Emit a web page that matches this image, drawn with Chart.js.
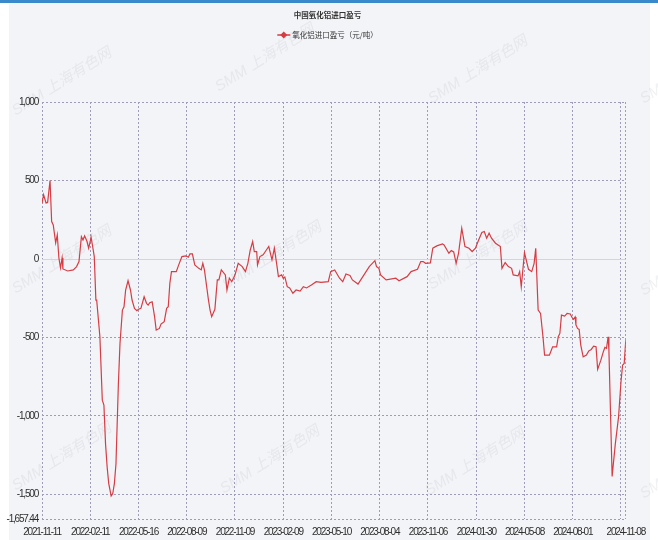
<!DOCTYPE html>
<html>
<head>
<meta charset="utf-8">
<script src="https://cdn.jsdelivr.net/npm/chart.js@4.4.1/dist/chart.umd.min.js"></script>
<style>
  html, body { margin: 0; padding: 0; background: #ffffff; }
  #wrap { width: 658px; height: 540px; position: relative; }
</style>
</head>
<body>
<div id="wrap"><canvas id="c" width="658" height="540"></canvas></div>
<script>
// ---- data ----
const chartTitle = '中国氧化铝进口盈亏';
const seriesName = '氧化铝进口盈亏（元/吨）';
// trading-day index (0 = 2021-11-11)
const tradeDay = [0,2,5,7,10,12,14,17,19,21,23,25,26,32,39,43,46,49,51,53,56,58,60,61,63,65,67,68,72,75,77,79,81,83,86,88,90,92,95,97,100,102,104,107,110,112,115,118,120,123,127,130,132,134,137,140,142,146,148,152,155,157,159,161,167,170,174,179,182,184,187,190,195,198,200,202,207,209,211,215,218,220,223,228,230,233,236,240,244,249,253,256,259,262,264,267,268,271,275,279,282,286,289,292,294,298,300,302,305,308,312,316,321,325,329,335,341,347,356,359,364,370,374,378,383,386,393,399,407,414,416,419,421,428,440,444,454,459,467,471,474,477,483,486,491,498,500,506,509,512,515,518,522,526,531,535,539,543,547,550,553,556,559,564,570,572,576,580,584,586,592,594,596,600,605,609,612,614,617,620,623,625,631,635,640,642,644,646,650,653,657,659,661,663,664,666,668,670,673,677,680,683,686,689,691,695,698,700,702,704,705,709,713,717,720,722,724,726];
// import profit/loss, yuan/ton
const importProfit = [356,409,357,360,500,238,217,102,153,6,-57,6,-64,-77,-70,-49,-17,142,121,147,111,68,111,139,79,15,-262,-262,-496,-900,-932,-1177,-1326,-1432,-1510,-1495,-1432,-1305,-794,-538,-326,-305,-198,-139,-198,-262,-315,-330,-321,-315,-241,-283,-294,-279,-273,-368,-453,-443,-415,-400,-315,-305,-155,-81,-81,-38,15,19,11,32,32,-38,-60,-70,-28,-70,-262,-326,-368,-321,-134,-134,-70,-102,-198,-123,-145,-102,-28,-49,-81,-28,57,111,47,47,-38,15,26,57,79,-6,68,-38,-113,-102,-123,-115,-177,-185,-219,-198,-205,-177,-185,-166,-145,-150,-145,-81,-70,-123,-145,-96,-105,-134,-160,-113,-49,-11,-49,-60,-102,-134,-123,-139,-113,-81,-66,-17,-17,-28,-25,68,83,96,89,36,53,45,-28,36,196,79,68,47,68,121,168,175,132,164,132,100,79,-60,-23,-49,-60,-102,-108,-81,-177,40,-66,-81,-28,68,-326,-347,-496,-613,-613,-560,-560,-496,-475,-358,-364,-347,-351,-372,-385,-370,-421,-443,-449,-549,-624,-613,-586,-577,-556,-560,-704,-645,-592,-564,-570,-496,-581,-1386,-1177,-1007,-784,-677,-666,-517];
// x axis ticks (trading-day index) and their labels
const xTickDays = [0,60,120,180,240,300,360,420,480,540,600,660,720,726];
const xTickLabels = ['2021-11-11','2022-02-11','2022-05-16','2022-08-09','2022-11-09','2023-02-09','2023-05-10','2023-08-04','2023-11-06','2024-01-30','2024-05-08','2024-08-01','','2024-11-08'];
// y axis ticks
const yTickValues = [-1657.44,-1500,-1000,-500,0,500,1000];

const points = tradeDay.map((d, i) => ({ x: d, y: importProfit[i] }));

const lineColor = '#d63c44';
const gridColor = '#9d9db8';
const tickFont = { family: '"Liberation Sans","Noto Sans",sans-serif', size: 10 };

const decorPlugin = {
  id: 'decor',
  beforeDraw(chart) {
    const ctx = chart.ctx;
    const W = chart.width, H = chart.height;
    ctx.save();
    ctx.fillStyle = '#ffffff';
    ctx.fillRect(0, 0, W, H);
    ctx.fillStyle = '#f3f4f7';
    ctx.fillRect(9, 3, W - 17, H - 3);
    ctx.fillStyle = '#3a89cb';
    ctx.fillRect(0, 0, W, 3);
    // watermarks
    ctx.fillStyle = 'rgba(165,170,182,0.17)';
    ctx.font = 'italic 15px "Liberation Sans","Noto Sans CJK SC",sans-serif';
    ctx.textAlign = 'center';
    ctx.textBaseline = 'middle';
    const marks = [[62,82],[265,58],[478,70],[690,70],[62,260],[272,256],[478,256],[690,262],[62,457],[270,460],[475,462],[690,465]];
    marks.forEach(([mx, my]) => {
      ctx.save();
      ctx.translate(mx, my);
      ctx.rotate(-0.56);
      ctx.fillText('SMM 上海有色网', 0, 0);
      ctx.restore();
    });
    ctx.restore();
    // condensed look for the axis labels
    ctx.letterSpacing = '-1.2px';
  },
  beforeDatasetsDraw(chart) {
    // solid zero line
    const ctx = chart.ctx, y = chart.scales.y.getPixelForValue(0), a = chart.chartArea;
    ctx.save();
    ctx.strokeStyle = '#d3d3e3';
    ctx.lineWidth = 1;
    ctx.beginPath();
    ctx.moveTo(a.left, Math.round(y) + 0.5);
    ctx.lineTo(a.right, Math.round(y) + 0.5);
    ctx.stroke();
    ctx.restore();
  },
  afterDraw(chart) {
    const ctx = chart.ctx;
    ctx.letterSpacing = '0px';
    const cx = 327.5;
    ctx.save();
    ctx.fillStyle = '#333333';
    ctx.textAlign = 'center';
    ctx.textBaseline = 'middle';
    ctx.font = 'bold 7.5px "Noto Sans CJK SC",sans-serif';
    ctx.fillText(chartTitle, cx, 15);
    // legend
    ctx.font = '7.5px "Noto Sans CJK SC",sans-serif';
    const tw = ctx.measureText(seriesName).width;
    const mw = 13, gap = 2;
    const x0 = cx - (mw + gap + tw) / 2;
    const ly = 35;
    ctx.strokeStyle = lineColor;
    ctx.lineWidth = 1.5;
    ctx.beginPath();
    ctx.moveTo(x0, ly); ctx.lineTo(x0 + mw, ly); ctx.stroke();
    ctx.fillStyle = lineColor;
    const dx = x0 + mw / 2;
    ctx.beginPath();
    ctx.moveTo(dx, ly - 3.5); ctx.lineTo(dx + 3.5, ly); ctx.lineTo(dx, ly + 3.5); ctx.lineTo(dx - 3.5, ly); ctx.closePath();
    ctx.fill();
    ctx.fillStyle = '#333333';
    ctx.textAlign = 'left';
    ctx.fillText(seriesName, x0 + mw + gap, ly);
    ctx.restore();
  }
};

new Chart(document.getElementById('c'), {
  type: 'line',
  data: {
    datasets: [{
      label: seriesName,
      data: points,
      borderColor: lineColor,
      backgroundColor: lineColor,
      borderWidth: 1.2,
      pointRadius: 0,
      tension: 0,
      fill: false
    }]
  },
  options: {
    responsive: false,
    animation: false,
    devicePixelRatio: 1,
    layout: { padding: { top: 102, right: 28, left: 0, bottom: 0 } },
    plugins: {
      legend: { display: false },
      title: { display: false },
      tooltip: { enabled: false }
    },
    scales: {
      x: {
        type: 'linear',
        min: xTickDays[0],
        max: xTickDays[xTickDays.length - 1],
        afterBuildTicks(scale) { scale.ticks = xTickDays.map(v => ({ value: v })); },
        afterFit(scale) { scale.height = 21; },
        ticks: {
          autoSkip: false,
          maxRotation: 0,
          minRotation: 0,
          padding: 7,
          color: '#2e2e2e',
          font: tickFont,
          callback(value) { const i = xTickDays.indexOf(value); return i >= 0 ? xTickLabels[i] : ''; }
        },
        grid: { color: gridColor, lineWidth: 1, drawTicks: false },
        border: { display: false, dash: [2, 2] }
      },
      y: {
        type: 'linear',
        min: yTickValues[0],
        max: yTickValues[yTickValues.length - 1],
        afterBuildTicks(scale) { scale.ticks = yTickValues.map(v => ({ value: v })); },
        afterFit(scale) { scale.width = 42; },
        ticks: {
          padding: 4,
          color: '#2e2e2e',
          font: tickFont,
          callback(value) { return Number(value).toLocaleString('en-US', { maximumFractionDigits: 2 }); }
        },
        grid: {
          color: (c) => (c.tick && c.tick.value === 0) ? 'rgba(0,0,0,0)' : gridColor,
          lineWidth: 1,
          drawTicks: false
        },
        border: { display: false, dash: [2, 2] }
      }
    }
  },
  plugins: [decorPlugin]
});
</script>
</body>
</html>
